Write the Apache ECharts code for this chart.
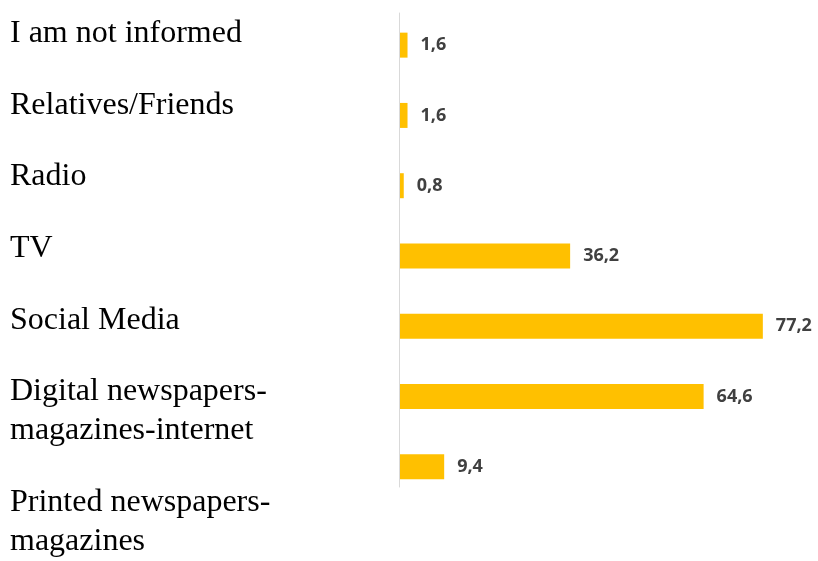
<!DOCTYPE html>
<html>
<head>
<meta charset="utf-8">
<script src="https://cdn.jsdelivr.net/npm/echarts@6/dist/echarts.min.js"></script>
<style>html,body{margin:0;padding:0;background:#fff;}#c{width:818px;height:561px;}</style>
</head>
<body>
<div id="c"></div>
<script>
var categories = ['I am not informed', 'Relatives/Friends', 'Radio', 'TV', 'Social Media', 'Digital newspapers-\nmagazines-internet', 'Printed newspapers-\nmagazines'];
var values = [1.6, 1.6, 0.8, 36.2, 77.2, 64.6, 9.4];

var chart = echarts.init(document.getElementById('c'));
chart.setOption({
  backgroundColor: '#ffffff',
  animation: false,
  grid: [
    { left: 400, top: 10, height: 492, width: 376 },
    { left: 380, top: 14, height: 443, width: 10 },
    { left: 399, top: 13, height: 474, width: 10 }
  ],
  xAxis: [
    { gridIndex: 0, type: 'value', min: 0, max: 80, show: false },
    { gridIndex: 1, type: 'value', show: false },
    { gridIndex: 2, type: 'value', show: false }
  ],
  yAxis: [
    { gridIndex: 0, type: 'category', data: categories, inverse: true,
      axisLine: { show: false }, axisTick: { show: false }, axisLabel: { show: false }, splitLine: { show: false } },
    { gridIndex: 1, type: 'category', data: categories, inverse: true, boundaryGap: false,
      axisLine: { show: false }, axisTick: { show: false }, splitLine: { show: false },
      axisLabel: {
        interval: 0, margin: 370, align: 'left', verticalAlign: 'top',
        fontFamily: 'Liberation Serif', fontSize: 32, lineHeight: 39, color: '#000000',
        formatter: function (v, i) { return i === 6 ? '\n' + v : v; }
      } },
    { gridIndex: 2, type: 'value', min: 0, max: 1,
      axisLine: { show: true, onZero: false, lineStyle: { color: '#d9d9d9', width: 1 } },
      axisTick: { show: false }, axisLabel: { show: false }, splitLine: { show: false } }
  ],
  series: [{
    type: 'bar',
    xAxisIndex: 0, yAxisIndex: 0,
    data: values,
    barWidth: 25,
    itemStyle: { color: '#FFC000' },
    label: {
      show: true, position: 'right', distance: 13,
      fontFamily: 'Open Sans', fontWeight: 'bold', fontSize: 18, color: '#404040',
      formatter: function (p) { return p.value.toFixed(1).replace('.', ','); }
    }
  }]
});
</script>
</body>
</html>
